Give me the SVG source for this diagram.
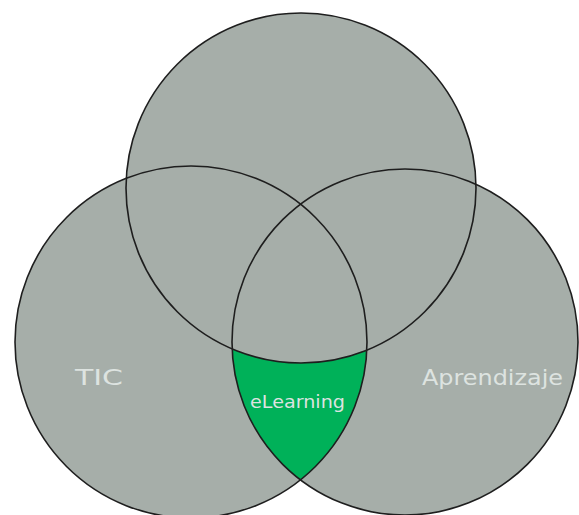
<svg xmlns="http://www.w3.org/2000/svg" width="579" height="515" viewBox="0 0 579 515">
  <style>
    .fill { fill: #a6aea9; stroke: none; }
    .ring { fill: none; stroke: #1e1e1e; stroke-width: 1.6; }
    .lbl { font-family: "DejaVu Sans", "Liberation Sans", sans-serif; fill: #dde3e0; }
  </style>
  <rect width="579" height="515" fill="#ffffff"/>
  <g id="fills">
    <circle class="fill" cx="301" cy="188" r="175"/>
    <circle class="fill" cx="191" cy="342" r="176"/>
    <circle class="fill" cx="405" cy="342" r="173"/>
  </g>
  <g id="elearning">
    <path d="M232.2 348.9 A175 175 0 0 0 366.8 350.1 A176 176 0 0 1 300.45 479.83 A173 173 0 0 1 232.2 348.9 Z" fill="#00b159"/>
    <text class="lbl" x="250" y="408" font-size="17" textLength="95" lengthAdjust="spacingAndGlyphs">eLearning</text>
  </g>
  <g id="top">
    <circle class="ring" cx="301" cy="188" r="175"/>
  </g>
  <g id="tic">
    <circle class="ring" cx="191" cy="342" r="176"/>
    <text class="lbl" x="75" y="385" font-size="22" textLength="48" lengthAdjust="spacingAndGlyphs">TIC</text>
  </g>
  <g id="aprendizaje">
    <circle class="ring" cx="405" cy="342" r="173"/>
    <text class="lbl" x="422" y="385" font-size="21" textLength="141" lengthAdjust="spacingAndGlyphs">Aprendizaje</text>
  </g>
</svg>
